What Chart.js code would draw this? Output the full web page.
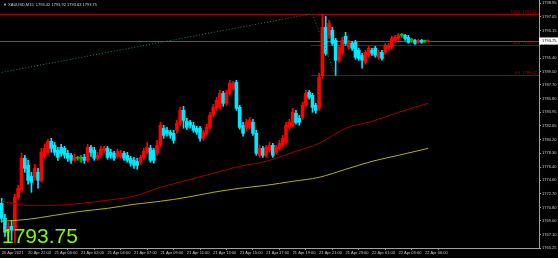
<!DOCTYPE html>
<html>
<head>
<meta charset="utf-8">
<script src="https://cdn.jsdelivr.net/npm/chart.js@4/dist/chart.umd.min.js"></script>
<style>
html, body { margin: 0; padding: 0; background: #000; }
#wrap { width: 558px; height: 258px; }
</style>
</head>
<body>
<div id="wrap"><canvas id="chart" width="558" height="258"></canvas></div>
<script>
// XAUUSD M15 - candles
const openP = [1771.40,1769.34,1767.41,1768.24,1767.69,1772.23,1773.19,1777.60,1776.63,1775.12,
  1774.98,1775.67,1774.57,1777.87,1778.42,1779.94,1779.39,1778.70,1779.11,1778.97,
  1778.29,1778.01,1777.32,1777.60,1777.60,1777.73,1777.32,1779.11,1778.70,1777.60,
  1778.01,1778.70,1778.97,1778.42,1778.29,1777.87,1777.87,1778.29,1778.01,1777.60,
  1777.32,1777.18,1777.05,1777.73,1778.42,1778.97,1778.70,1778.29,1779.39,1781.73,
  1781.45,1781.18,1781.04,1781.45,1782.41,1784.20,1782.69,1782.55,1782.14,1781.73,
  1781.73,1780.35,1781.04,1781.86,1783.52,1784.48,1784.62,1786.54,1785.17,1786.54,
  1787.23,1788.06,1784.62,1782.14,1781.73,1781.86,1782.55,1781.04,1778.01,1778.97,
  1778.01,1778.70,1779.39,1778.42,1778.97,1779.39,1779.80,1781.86,1782.14,1783.79,
  1783.10,1783.24,1784.89,1786.68,1786.27,1784.89,1784.48,1789.02,1795.63,1794.53,
  1795.22,1793.84,1791.09,1792.05,1794.39,1792.88,1793.43,1793.56,1792.46,1791.77,
  1790.81,1791.77,1792.46,1792.74,1791.50,1792.19,1792.19,1792.74,1792.88,1793.84,
  1794.11,1794.53,1794.53,1794.25,1793.84,1793.84,1793.56,1793.84,1793.70,1793.62];
const highP = [1772.09,1769.89,1768.79,1769.06,1772.64,1773.88,1778.29,1778.01,1777.32,1775.67,
  1776.77,1776.22,1778.97,1779.52,1780.21,1780.35,1779.80,1779.11,1779.52,1779.25,
  1778.70,1778.29,1778.15,1777.87,1778.01,1778.15,1779.52,1779.39,1779.11,1778.42,
  1779.25,1779.25,1779.25,1778.84,1778.56,1778.84,1778.70,1778.56,1778.42,1777.87,
  1777.73,1777.60,1778.01,1778.97,1779.80,1779.39,1778.97,1780.07,1782.55,1782.14,
  1781.86,1781.45,1781.45,1782.83,1784.62,1784.75,1783.10,1782.83,1782.55,1782.00,
  1782.00,1781.45,1782.28,1783.93,1785.03,1785.99,1786.96,1786.82,1786.96,1788.33,
  1788.20,1788.33,1784.89,1782.55,1782.97,1783.24,1782.97,1781.45,1779.39,1779.25,
  1779.39,1779.80,1779.66,1779.39,1780.07,1780.76,1782.55,1782.97,1784.48,1784.20,
  1783.52,1785.31,1786.96,1786.96,1786.54,1785.17,1789.30,1797.42,1797.14,1796.59,
  1795.63,1794.11,1793.15,1794.25,1794.94,1793.84,1793.70,1793.84,1792.74,1792.05,
  1792.46,1793.01,1792.74,1793.01,1792.46,1792.46,1793.43,1793.43,1794.39,1794.53,
  1794.80,1794.80,1794.66,1794.53,1794.11,1793.98,1793.98,1793.98,1793.84,1793.92];
const lowP = [1768.79,1766.86,1766.58,1766.31,1766.03,1771.95,1772.92,1775.67,1774.02,1772.92,
  1774.57,1773.47,1774.29,1777.60,1778.15,1778.42,1778.01,1777.32,1777.87,1777.60,
  1777.18,1776.91,1777.18,1777.32,1777.05,1776.91,1777.05,1777.87,1777.32,1777.32,
  1777.73,1778.42,1777.46,1777.60,1777.32,1777.60,1777.60,1777.32,1777.05,1776.50,
  1776.22,1776.08,1776.77,1777.46,1778.15,1777.05,1776.91,1778.01,1779.11,1780.35,
  1780.63,1780.35,1779.66,1781.04,1782.14,1781.73,1781.59,1781.73,1781.18,1780.90,
  1779.94,1780.07,1780.76,1781.59,1783.24,1784.20,1784.34,1784.75,1784.89,1786.27,
  1786.96,1784.20,1781.59,1780.63,1781.31,1781.59,1780.76,1778.01,1777.73,1777.73,
  1777.73,1778.42,1777.73,1778.15,1778.70,1779.11,1779.52,1781.59,1781.86,1782.28,
  1782.14,1782.97,1784.62,1785.72,1783.93,1783.79,1784.20,1788.61,1791.77,1794.11,
  1793.15,1789.02,1790.81,1791.77,1793.15,1792.60,1792.46,1791.22,1791.09,1789.99,
  1790.54,1791.50,1791.77,1791.50,1791.22,1791.09,1791.91,1792.46,1792.60,1793.56,
  1793.84,1794.25,1793.84,1793.43,1793.56,1793.29,1793.43,1793.43,1793.56,1793.60];
const closeP = [1769.34,1767.41,1768.24,1767.69,1772.23,1773.47,1777.60,1776.22,1774.57,1774.29,
  1776.22,1774.57,1778.42,1778.97,1779.94,1778.97,1778.42,1777.73,1778.29,1778.01,
  1777.60,1777.32,1777.73,1777.60,1777.60,1777.32,1779.11,1778.42,1777.60,1778.01,
  1778.84,1778.97,1777.73,1778.01,1777.60,1778.56,1778.29,1777.60,1777.32,1776.91,
  1776.63,1776.63,1777.73,1778.56,1779.11,1777.32,1777.32,1779.39,1782.14,1780.76,
  1781.04,1780.76,1780.07,1782.41,1784.20,1782.83,1781.86,1782.14,1781.45,1781.18,
  1780.35,1781.18,1781.86,1783.52,1784.62,1785.58,1786.54,1785.17,1786.68,1787.92,
  1787.92,1784.48,1781.86,1781.04,1782.55,1782.83,1781.04,1778.29,1778.97,1778.01,
  1779.11,1779.39,1778.01,1779.11,1779.66,1780.35,1782.14,1782.55,1783.93,1782.55,
  1782.55,1784.89,1786.54,1785.99,1784.62,1784.20,1788.75,1795.63,1792.05,1796.18,
  1793.43,1791.09,1792.88,1793.84,1793.43,1793.56,1792.74,1791.50,1791.36,1791.09,
  1792.19,1792.74,1792.05,1791.77,1792.19,1791.36,1793.15,1793.15,1794.11,1794.25,
  1794.53,1794.53,1794.11,1793.56,1793.84,1793.43,1793.84,1793.56,1793.70,1793.75];

// moving averages (sampled points, library joins them)
const maIndex = [0, 8, 16, 24, 32, 40, 48, 56, 64, 72, 80, 88, 96, 104, 112, 120, 129];
const redMa = [1771.68,1771.13,1771.13,1771.40,1771.82,1772.37,1773.60,1774.57,1775.53,1776.50,1777.18,1778.42,1779.66,1781.73,1782.69,1783.93,1785.17];
const yellowMa = [1768.92,1769.20,1769.75,1770.30,1770.71,1771.26,1771.68,1772.23,1772.92,1773.47,1773.88,1774.43,1774.98,1776.08,1777.18,1778.01,1778.97];

// dotted trend line + fibo diagonal
const trendIdx = [0, 93];
const trendVal = [1789.43, 1797.42];
const fiboIdx = [94, 101];
const fiboVal = [1797.42, 1789.02];

// fibo levels
const fibValues = [1797.42, 1793.22, 1789.02];
const fibStart = [-0.5, 93.5, 93.5];
const fibLabels = ['100.0  1797.42', '50.0  1793.22', '0.0  1789.02'];

// axis
const xTickIndex = [0, 8, 16, 24, 32, 40, 48, 56, 64, 72, 80, 88, 96, 104, 112, 120, 128];
const xTickLabels = ['20 Apr 2021', '20 Apr 22:00', '21 Apr 00:00', '21 Apr 02:00', '21 Apr 04:00', '21 Apr 07:00',
  '21 Apr 09:00', '21 Apr 11:00', '21 Apr 13:00', '21 Apr 15:00', '21 Apr 17:00', '21 Apr 19:00',
  '21 Apr 21:00', '21 Apr 23:00', '22 Apr 01:00', '22 Apr 03:00', '22 Apr 06:00'];
const yTickLabels = ['1765.25', '1767.10', '1769.00', '1770.80', '1772.70', '1774.60', '1776.40', '1778.30', '1780.20', '1782.05',
  '1783.95', '1785.80', '1787.70', '1789.50', '1791.40', '1793.30', '1795.15', '1797.05', '1798.95'];

const titleText = '\u25BC XAUUSD,M15  1793.42 1793.92 1793.63 1793.75';
const slots = 163;  // bars that fit the window (chart shift on the right)

const UP = '#ff0000', DOWN = '#00e8ff', DOJI = '#00c000';
const candleColor = openP.map((o, i) => closeP[i] > o ? UP : closeP[i] < o ? DOWN : DOJI);
const lastPrice = closeP[closeP.length - 1];
const axisColor = '#a0a0a0';
const tinyFont = { family: 'Liberation Sans', size: 4 };

const overlay = {
  id: 'overlay',
  beforeDatasetsDraw(chart) {
    const { ctx, chartArea: a, scales: { x, y } } = chart;
    ctx.save();
    ctx.lineWidth = 1;
    // bid line
    const by = Math.round(y.getPixelForValue(lastPrice)) + 0.5;
    ctx.strokeStyle = '#5a5a64';
    ctx.beginPath(); ctx.moveTo(a.left, by); ctx.lineTo(a.right, by); ctx.stroke();
    // fibo levels
    ctx.font = '4px "Liberation Sans"';
    ctx.textAlign = 'right';
    ctx.textBaseline = 'bottom';
    fibValues.forEach((v, i) => {
      const py = Math.round(y.getPixelForValue(v)) + 0.5;
      const px = Math.max(a.left, x.getPixelForValue(fibStart[i]));
      ctx.strokeStyle = '#a00000';
      ctx.beginPath(); ctx.moveTo(px, py); ctx.lineTo(a.right, py); ctx.stroke();
      ctx.fillStyle = '#c00000';
      ctx.fillText(fibLabels[i], a.right - 2, py - 1);
    });
    ctx.restore();
  },
  afterDraw(chart) {
    const { ctx, chartArea: a, scales: { y } } = chart;
    ctx.save();
    ctx.fillStyle = '#d0d0d0';
    ctx.font = '4px "Liberation Sans"';
    ctx.textBaseline = 'middle';
    ctx.fillText(titleText, 3, 5);
    // price tag on the axis
    const py = y.getPixelForValue(lastPrice);
    ctx.fillStyle = '#ffffff';
    ctx.fillRect(a.right, py - 3.5, 19, 7);
    ctx.fillStyle = '#000';
    ctx.fillText(lastPrice.toFixed(2), a.right + 3, py);
    // big price
    ctx.fillStyle = '#7cfc00';
    ctx.font = '21px "Liberation Sans"';
    ctx.textBaseline = 'alphabetic';
    ctx.fillText(lastPrice.toFixed(2), 2, 243);
    ctx.restore();
  }
};

new Chart(document.getElementById('chart'), {
  data: {
    datasets: [
      {
        type: 'line', data: maIndex.map((v, i) => ({ x: v, y: yellowMa[i] })),
        borderColor: '#b4b400', borderWidth: 1, pointRadius: 0, cubicInterpolationMode: 'monotone'
      },
      {
        type: 'line', data: maIndex.map((v, i) => ({ x: v, y: redMa[i] })),
        borderColor: '#a00000', borderWidth: 1, pointRadius: 0, cubicInterpolationMode: 'monotone'
      },
      {
        type: 'line', data: trendIdx.map((v, i) => ({ x: v, y: trendVal[i] })),
        borderColor: '#0a8a78', borderWidth: 1, borderDash: [1, 2], pointRadius: 0
      },
      {
        type: 'line', data: fiboIdx.map((v, i) => ({ x: v, y: fiboVal[i] })),
        borderColor: '#0a8a50', borderWidth: 1, borderDash: [1, 2], pointRadius: 0
      },
      {
        type: 'bar', data: lowP.map((l, i) => ({ x: i, y: [l, highP[i]] })),
        backgroundColor: candleColor, barThickness: 1, grouped: false
      },
      {
        type: 'bar', data: openP.map((o, i) => ({ x: i, y: [o, closeP[i]] })),
        backgroundColor: candleColor, barThickness: 3, minBarLength: 1, grouped: false
      }
    ]
  },
  options: {
    responsive: false,
    animation: false,
    events: [],
    layout: { padding: 0 },
    plugins: { legend: { display: false }, tooltip: { enabled: false } },
    scales: {
      x: {
        type: 'linear', min: -0.5, max: slots - 0.5, offset: false,
        afterFit(s) { s.height = 10; },
        afterBuildTicks(s) { s.ticks = xTickIndex.map(v => ({ value: v })); },
        border: { color: axisColor },
        grid: { drawOnChartArea: false, color: axisColor, tickLength: 2 },
        ticks: {
          autoSkip: false, maxRotation: 0, align: 'start', padding: 0,
          color: '#c8c8c8', font: tinyFont,
          callback: v => xTickLabels[xTickIndex.indexOf(v)]
        }
      },
      y: {
        type: 'linear', position: 'right', min: 1765.25, max: 1799.39,
        afterFit(s) { s.width = 19; s.paddingTop = 0; s.paddingBottom = 0; },
        afterBuildTicks(s) { s.ticks = yTickLabels.map(t => ({ value: parseFloat(t) })); },
        border: { color: axisColor },
        grid: { drawOnChartArea: false, color: axisColor, tickLength: 2 },
        ticks: {
          padding: 1, color: '#c8c8c8', font: tinyFont,
          callback: v => yTickLabels.find(t => parseFloat(t) === v)
        }
      }
    }
  },
  plugins: [overlay]
});
</script>
</body>
</html>
